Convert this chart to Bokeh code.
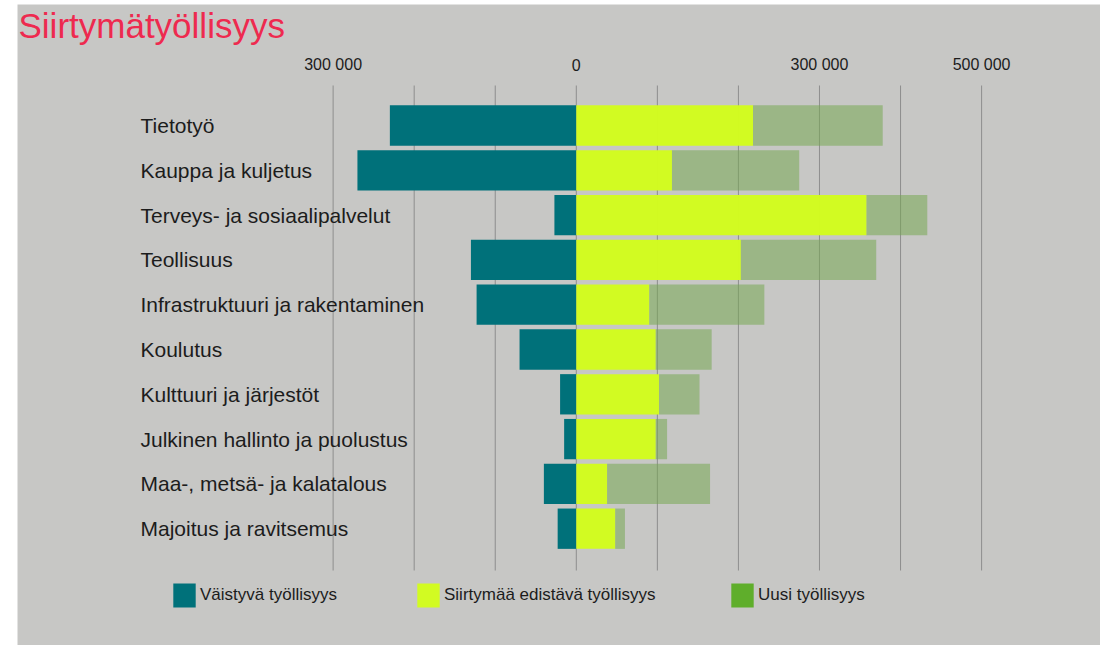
from bokeh.plotting import figure
from bokeh.models import Range1d, Legend, LegendItem, ColumnDataSource
from bokeh.core.properties import value
from bokeh.embed import file_html
from bokeh.resources import INLINE

# ---------------- data ----------------
categories = [
    "Tietotyö",
    "Kauppa ja kuljetus",
    "Terveys- ja sosiaalipalvelut",
    "Teollisuus",
    "Infrastruktuuri ja rakentaminen",
    "Koulutus",
    "Kulttuuri ja järjestöt",
    "Julkinen hallinto ja puolustus",
    "Maa-, metsä- ja kalatalous",
    "Majoitus ja ravitsemus",
]
vaistyva = [230000, 270000, 27000, 130000, 123000, 70000, 20000, 15000, 40000, 23000]
siirtyma = [218000, 118000, 358000, 203000, 90000, 98000, 102000, 98000, 38000, 48000]
uusi = [160000, 157000, 75000, 167000, 142000, 69000, 50000, 14000, 127000, 12000]

tick_values = [-300000, 0, 300000, 500000]
tick_labels = ["300 000", "0", "300 000", "500 000"]
grid_values = [-300000, -200000, -100000, 0, 100000, 200000, 300000, 400000, 500000]

title_text = "Siirtymätyöllisyys"
legend_labels = ["Väistyvä työllisyys", "Siirtymää edistävä työllisyys", "Uusi työllisyys"]

# ---------------- layout helpers ----------------
W, H = 1100, 645
BORDER_L, BORDER_T = 17, 4
FRAME_H = H - BORDER_T
ZERO_PX, PX_PER_UNIT = 575.8, 0.0008106      # x mapping (picture pixels)
ROW0_PX, ROW_STEP = 125.0, 44.8              # y mapping (picture pixels)


def dx(px):
    return (px - ZERO_PX) / PX_PER_UNIT


def dy(py):
    return (py - ROW0_PX) / ROW_STEP


BG = "#c7c7c5"
TEAL = "#00717a"
YELLOW = "#d3fd1d"
GREEN_BAR = "#76a752"
GREEN_LEG = "#5fae2b"
TXT = "#1c1c1c"
FONT = "Liberation Sans"

p = figure(
    width=W, height=H,
    x_range=Range1d(dx(BORDER_L), dx(W)),
    y_range=Range1d(dy(H), dy(BORDER_T)),
    output_backend="svg", toolbar_location=None,
    min_border_left=BORDER_L, min_border_right=0,
    min_border_top=BORDER_T, min_border_bottom=0,
)
p.axis.visible = False
p.grid.visible = False
p.outline_line_color = None
p.background_fill_color = BG
p.border_fill_color = "white"

ys = list(range(len(categories)))
src = ColumnDataSource(dict(
    y=ys,
    cat=categories,
    neg=[-v for v in vaistyva],
    s=siirtyma,
    total=[a + b for a, b in zip(siirtyma, uusi)],
    zero=[0] * len(categories),
))

# grid lines
p.segment(x0=grid_values, x1=grid_values,
          y0=[dy(85)] * len(grid_values), y1=[dy(570)] * len(grid_values),
          line_color="#8e8e8e", line_width=1)

r_v = p.hbar(y="y", left="neg", right="zero", height=0.9, source=src,
             fill_color=TEAL, line_color=None)
r_s = p.hbar(y="y", left="zero", right="s", height=0.9, source=src,
             fill_color=YELLOW, line_color=None, fill_alpha=0.97)
p.hbar(y="y", left="s", right="total", height=0.9, source=src,
       fill_color=GREEN_BAR, fill_alpha=0.55, line_color=None)
# zero-height twin of the "Uusi" bars, only to give the legend its solid swatch
r_u_leg = p.hbar(y="y", left="s", right="total", height=0, source=src,
                 fill_color=GREEN_LEG, line_color=None)

# category labels
p.text(x=[dx(140)] * len(categories), y=ys, text=categories,
       text_font=value(FONT), text_font_size="21px", text_color=TXT,
       text_align="left", text_baseline="middle")

# top tick labels
p.text(x=tick_values, y=[dy(64)] * len(tick_values), text=tick_labels,
       text_font=value(FONT), text_font_size="16px", text_color=TXT,
       text_align="center", text_baseline="middle")

# title
p.text(x=[dx(18)], y=[dy(25)], text=[title_text],
       text_font=value(FONT), text_font_size="35px", text_color="#ee2a4f",
       text_align="left", text_baseline="middle")

# legends
leg_renderers = [r_v, r_s, r_u_leg]
leg_page_x = [170, 414, 728]
for lab, rr, px in zip(legend_labels, leg_renderers, leg_page_x):
    lg = Legend(
        items=[LegendItem(label=lab, renderers=[rr])],
        location=(px - BORDER_L, FRAME_H - (610 - BORDER_T)),
        orientation="horizontal",
        glyph_width=28, glyph_height=30, label_standoff=2,
        padding=0, margin=0, border_line_color=None,
        background_fill_alpha=0,
        label_text_font=FONT, label_text_font_size="17px",
        label_text_color=TXT,
    )
    p.add_layout(lg)

open("out.html", "w").write(file_html(p, INLINE))
